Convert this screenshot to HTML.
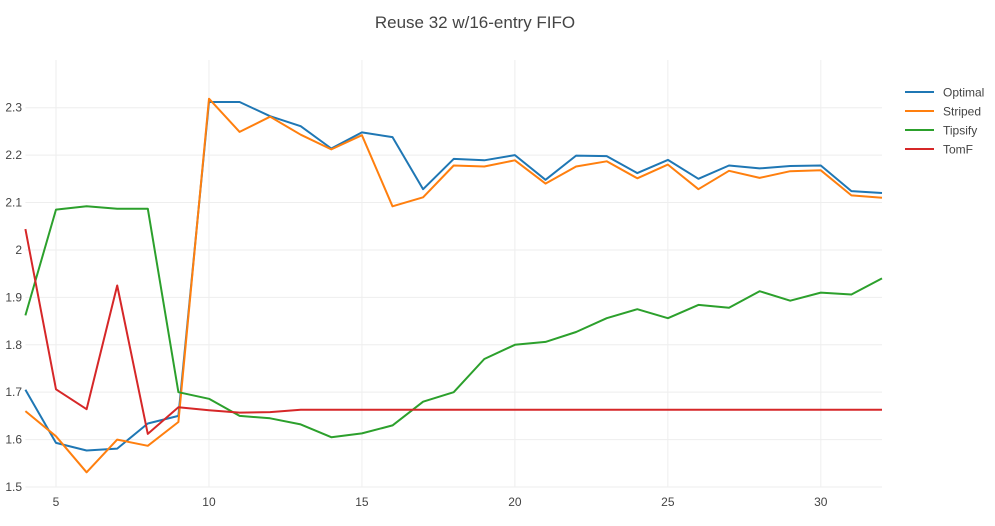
<!DOCTYPE html>
<html><head><meta charset="utf-8"><style>
body{margin:0;background:#fff;font-family:"Liberation Sans",sans-serif;}
svg text{font-family:"Liberation Sans",sans-serif;fill:#444;}
</style></head><body>
<svg id="chart" width="995" height="521">
<text x="475" y="28" text-anchor="middle" font-size="17">Reuse 32 w/16-entry FIFO</text>
<g id="grid"></g><g id="lines"></g><g id="legend"></g>
</svg>
<script>
const xs = [4,5,6,7,8,9,10,11,12,13,14,15,16,17,18,19,20,21,22,23,24,25,26,27,28,29,30,31,32];
const optimal = [1.705,1.593,1.577,1.581,1.634,1.650,2.312,2.312,2.282,2.261,2.214,2.248,2.238,2.128,2.192,2.189,2.200,2.148,2.199,2.198,2.162,2.190,2.150,2.178,2.172,2.177,2.178,2.124,2.120];
const striped = [1.660,1.607,1.531,1.600,1.587,1.637,2.319,2.249,2.281,2.243,2.212,2.242,2.092,2.111,2.178,2.176,2.189,2.140,2.176,2.187,2.151,2.180,2.128,2.167,2.152,2.166,2.168,2.115,2.110];
const tipsify = [1.862,2.085,2.092,2.087,2.087,1.700,1.686,1.650,1.645,1.632,1.605,1.613,1.630,1.680,1.700,1.770,1.800,1.806,1.827,1.856,1.875,1.856,1.884,1.878,1.913,1.893,1.910,1.906,1.940];
const tomf = [2.044,1.706,1.664,1.925,1.612,1.668,1.662,1.657,1.658,1.663,1.663,1.663,1.663,1.663,1.663,1.663,1.663,1.663,1.663,1.663,1.663,1.663,1.663,1.663,1.663,1.663,1.663,1.663,1.663];
const xTicks = [5,10,15,20,25,30];
const yTicks = [1.5,1.6,1.7,1.8,1.9,2,2.1,2.2,2.3];
const seriesNames = ["Optimal","Striped","Tipsify","TomF"];
const colors = ["#1f77b4","#ff7f0e","#2ca02c","#d62728"];
const NS="http://www.w3.org/2000/svg";
const X0=25.4,X1=882,Y0=487,Y1=107.7;
const xS=v=>X0+(v-4)/(32-4)*(X1-X0);
const yS=v=>Y0-(v-1.5)/(2.3-1.5)*(Y0-Y1);
function mk(t,a,p){const e=document.createElementNS(NS,t);for(const k in a)e.setAttribute(k,a[k]);p.appendChild(e);return e;}
const grid=document.getElementById('grid');
xTicks.forEach(t=>{
  const l=mk('line',{x1:xS(t),x2:xS(t),y1:60,y2:Y0,stroke:'#eee','stroke-width':1},grid);
  
  
  const tx=mk('text',{x:xS(t),y:506,'text-anchor':'middle','font-size':12},grid);tx.textContent=t;
  
  
});
yTicks.forEach(t=>{
  const l=mk('line',{x1:X0,x2:X1,y1:yS(t),y2:yS(t),stroke:'#eee','stroke-width':1},grid);
  
  
  const tx=mk('text',{x:22,y:yS(t)+4,'text-anchor':'end','font-size':12},grid);tx.textContent=t;
  
  
});
const lines=document.getElementById('lines');
[optimal,striped,tipsify,tomf].forEach((s,i)=>{
  const d=s.map((v,j)=>(j?'L':'M')+xS(xs[j]).toFixed(1)+','+yS(v).toFixed(1)).join('');
  const p=mk('path',{d:d,fill:'none',stroke:colors[i],'stroke-width':2,'stroke-linejoin':'round'},lines);
  
  
});
const lg=document.getElementById('legend');
seriesNames.forEach((n,i)=>{
  const y=92+i*19;
  const g=mk('g',{},lg);
  
  
  mk('line',{x1:905,x2:934,y1:y,y2:y,stroke:colors[i],'stroke-width':2},g);
  const t=mk('text',{x:943,y:y+4.5,'font-size':12},g);t.textContent=n;
});
</script>
</body></html>
